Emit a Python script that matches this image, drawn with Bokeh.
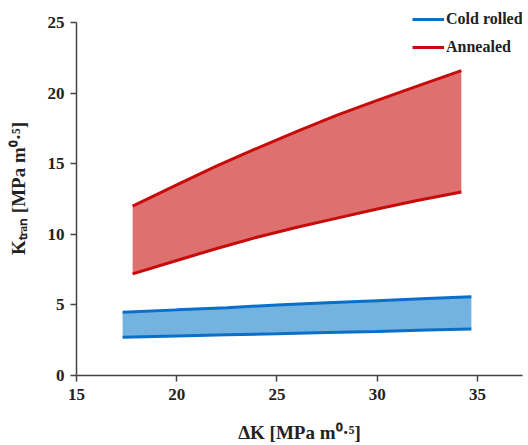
from bokeh.plotting import figure
from bokeh.models import Range1d, Legend, LegendItem, FixedTicker
from bokeh.embed import file_html
from bokeh.resources import INLINE

# Annealed band
ann_x = [17.8, 20, 22, 24, 26, 28, 30, 32, 34.2]
ann_upper = [12.0, 13.5, 14.85, 16.1, 17.3, 18.45, 19.5, 20.5, 21.6]
ann_lower = [7.2, 8.15, 9.0, 9.8, 10.5, 11.15, 11.8, 12.4, 13.0]

# Cold rolled band
cr_x = [17.3, 20, 22.5, 25, 27.5, 30, 32.5, 34.7]
cr_upper = [4.48, 4.65, 4.8, 5.0, 5.15, 5.3, 5.45, 5.58]
cr_lower = [2.71, 2.8, 2.88, 2.95, 3.05, 3.12, 3.22, 3.3]

x_ticks = [15, 20, 25, 30, 35]
y_ticks = [0, 5, 10, 15, 20, 25]

series_names = ["Cold rolled", "Annealed"]

RED_LINE = "#c80a0a"
RED_FILL = "#df7070"
BLUE_LINE = "#0a6fc8"
BLUE_FILL = "#74b3e0"

p = figure(width=528, height=445, output_backend="svg", toolbar_location=None,
           x_range=Range1d(15, 37.25), y_range=Range1d(0, 26.5),
           min_border_left=76, min_border_right=6, min_border_top=1, min_border_bottom=70)

p.outline_line_color = None
p.xgrid.grid_line_color = None
p.ygrid.grid_line_color = None
p.background_fill_color = "white"
p.border_fill_color = "white"

# bands
p.varea(x=ann_x, y1=ann_lower, y2=ann_upper, fill_color=RED_FILL, fill_alpha=1.0)
r_ann = p.line(ann_x, ann_upper, line_color=RED_LINE, line_width=3)
p.line(ann_x, ann_lower, line_color=RED_LINE, line_width=3)

p.varea(x=cr_x, y1=cr_lower, y2=cr_upper, fill_color=BLUE_FILL, fill_alpha=1.0)
r_cr = p.line(cr_x, cr_upper, line_color=BLUE_LINE, line_width=3)
p.line(cr_x, cr_lower, line_color=BLUE_LINE, line_width=3)

FONT = "Liberation Serif"

for ax in (p.xaxis[0], p.yaxis[0]):
    ax.axis_line_color = "#444444"
    ax.axis_line_width = 1.5
    ax.major_tick_line_color = "#444444"
    ax.major_tick_line_width = 1.5
    ax.major_tick_out = 6
    ax.major_tick_in = 0
    ax.minor_tick_line_color = None
    ax.major_label_text_font = FONT
    ax.major_label_text_font_style = "bold"
    ax.major_label_text_font_size = "17px"
    ax.major_label_text_color = "#222222"
    ax.axis_label_text_font = FONT
    ax.axis_label_text_font_style = "bold"
    ax.axis_label_text_font_size = "19px"
    ax.axis_label_text_color = "#222222"

p.xaxis.ticker = FixedTicker(ticks=x_ticks)
p.yaxis.ticker = FixedTicker(ticks=y_ticks)
p.yaxis.bounds = (0, 25)
p.xaxis.major_label_standoff = 7
p.yaxis.major_label_standoff = 6
p.xaxis.axis_label = "ΔK [MPa m⁰·⁵]"
p.yaxis.axis_label = "Kₜᵣₐₙ [MPa m⁰·⁵]"
p.xaxis.axis_label_standoff = 19
p.yaxis.axis_label_standoff = 16

legend = Legend(items=[LegendItem(label=series_names[0], renderers=[r_cr]),
                       LegendItem(label=series_names[1], renderers=[r_ann])],
                location=(336, 318), orientation="vertical")
legend.border_line_color = None
legend.background_fill_alpha = 0
legend.padding = 0
legend.margin = 0
legend.spacing = 8
legend.glyph_width = 32
legend.glyph_height = 20
legend.label_height = 20
legend.label_standoff = 2
legend.label_text_font = FONT
legend.label_text_font_style = "bold"
legend.label_text_font_size = "16px"
legend.label_text_color = "#222222"
p.add_layout(legend, "center")

open("out.html", "w").write(file_html(p, INLINE))
